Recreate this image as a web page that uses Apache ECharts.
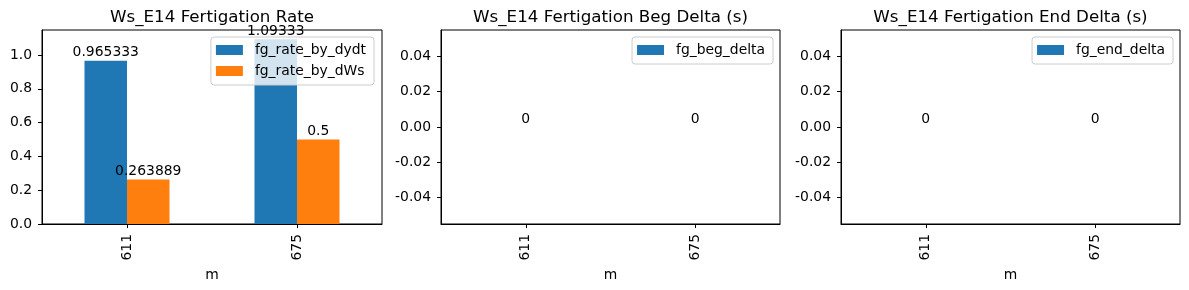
<!DOCTYPE html>
<html>
<head>
<meta charset="utf-8">
<script src="https://cdn.jsdelivr.net/npm/echarts@6/dist/echarts.min.js"></script>
<style>
html,body{margin:0;padding:0;background:#fff;}
#chart{width:1189px;height:290px;}
</style>
</head>
<body>
<div id="chart"></div>
<script>
const categories = ['611', '675'];
const rateByDydt = [0.965333, 1.09333];
const rateByDWs = [0.263889, 0.5];
const begDelta = [0, 0];
const endDelta = [0, 0];
const rateTicks = [0, 0.2, 0.4, 0.6, 0.8, 1.0];
const deltaTicks = [-0.04, -0.02, 0, 0.02, 0.04];
const titles = ['Ws_E14 Fertigation Rate', 'Ws_E14 Fertigation Beg Delta (s)', 'Ws_E14 Fertigation End Delta (s)'];

const FONT = 'DejaVu Sans';
const FS = 13.9;
const BLUE = '#1f77b4', ORANGE = '#ff7f0e';

const grids = [
  {left: 42, top: 30, width: 340, height: 194},
  {left: 441, top: 30, width: 339, height: 194},
  {left: 841, top: 30, width: 339, height: 194}
];

function xAxis(i) {
  return {
    type: 'category', gridIndex: i, data: categories,
    name: 'm', nameLocation: 'middle', nameGap: 38,
    nameTextStyle: {fontFamily: FONT, fontSize: FS, color: '#000'},
    axisLine: {show: true, onZero: false, lineStyle: {color: '#000', width: 1}},
    axisTick: {show: true, alignWithLabel: true, length: 4, inside: false, lineStyle: {color: '#000', width: 1}},
    axisLabel: {rotate: 90, margin: 10, fontFamily: FONT, fontSize: FS, color: '#000'},
    splitLine: {show: false}
  };
}
function yAxis(i, min, max, ticks, dec) {
  return {
    type: 'value', gridIndex: i, min: min, max: max,
    axisLine: {show: true, onZero: false, lineStyle: {color: '#000', width: 1}},
    axisTick: {show: true, length: 4, customValues: ticks, lineStyle: {color: '#000', width: 1}},
    axisLabel: {customValues: ticks, margin: 10, fontFamily: FONT, fontSize: FS, color: '#000',
      formatter: v => Number(v).toFixed(dec)},
    splitLine: {show: false}
  };
}
function legend(names, right) {
  return {
    data: names, right: right, top: 37, orient: 'vertical',
    icon: 'rect', itemWidth: 27, itemHeight: 10, itemGap: 5,
    padding: [5, 8, 6, 5],
    backgroundColor: 'rgba(255,255,255,0.8)', borderColor: '#cccccc', borderWidth: 1, borderRadius: 3,
    textStyle: {fontFamily: FONT, fontSize: FS, color: '#000', lineHeight: 16, padding: [0, 0, 0, 7]},
    selectedMode: false
  };
}
const labelStyle = {show: true, position: 'top', distance: 1, fontFamily: FONT, fontSize: FS, color: '#000'};

const option = {
  animation: false,
  backgroundColor: '#fff',
  title: titles.map((t, i) => ({
    text: t, left: grids[i].left + grids[i].width / 2, top: 9, textAlign: 'center', padding: 0,
    textStyle: {fontFamily: FONT, fontSize: 16.7, fontWeight: 'normal', color: '#000'}
  })),
  grid: grids.map(g => Object.assign({show: true, borderColor: '#000', borderWidth: 1, backgroundColor: 'transparent'}, g)),
  xAxis: [xAxis(0), xAxis(1), xAxis(2)],
  yAxis: [
    yAxis(0, 0, 1.148, rateTicks, 1),
    yAxis(1, -0.055, 0.055, deltaTicks, 2),
    yAxis(2, -0.055, 0.055, deltaTicks, 2)
  ],
  legend: [
    legend(['fg_rate_by_dydt', 'fg_rate_by_dWs'], 815),
    legend(['fg_beg_delta'], 416),
    legend(['fg_end_delta'], 16)
  ],
  series: [
    {name: 'fg_rate_by_dydt', type: 'bar', xAxisIndex: 0, yAxisIndex: 0, data: rateByDydt,
      barWidth: '25%', barGap: '0%', itemStyle: {color: BLUE}, label: labelStyle},
    {name: 'fg_rate_by_dWs', type: 'bar', xAxisIndex: 0, yAxisIndex: 0, data: rateByDWs,
      barWidth: '25%', barGap: '0%', itemStyle: {color: ORANGE}, label: labelStyle},
    {name: 'fg_beg_delta', type: 'bar', xAxisIndex: 1, yAxisIndex: 1, data: begDelta,
      barWidth: '50%', itemStyle: {color: BLUE}, label: labelStyle},
    {name: 'fg_end_delta', type: 'bar', xAxisIndex: 2, yAxisIndex: 2, data: endDelta,
      barWidth: '50%', itemStyle: {color: BLUE}, label: labelStyle}
  ]
};

const chart = echarts.init(document.getElementById('chart'), null, {renderer: 'canvas'});
chart.setOption(option);
</script>
</body>
</html>
